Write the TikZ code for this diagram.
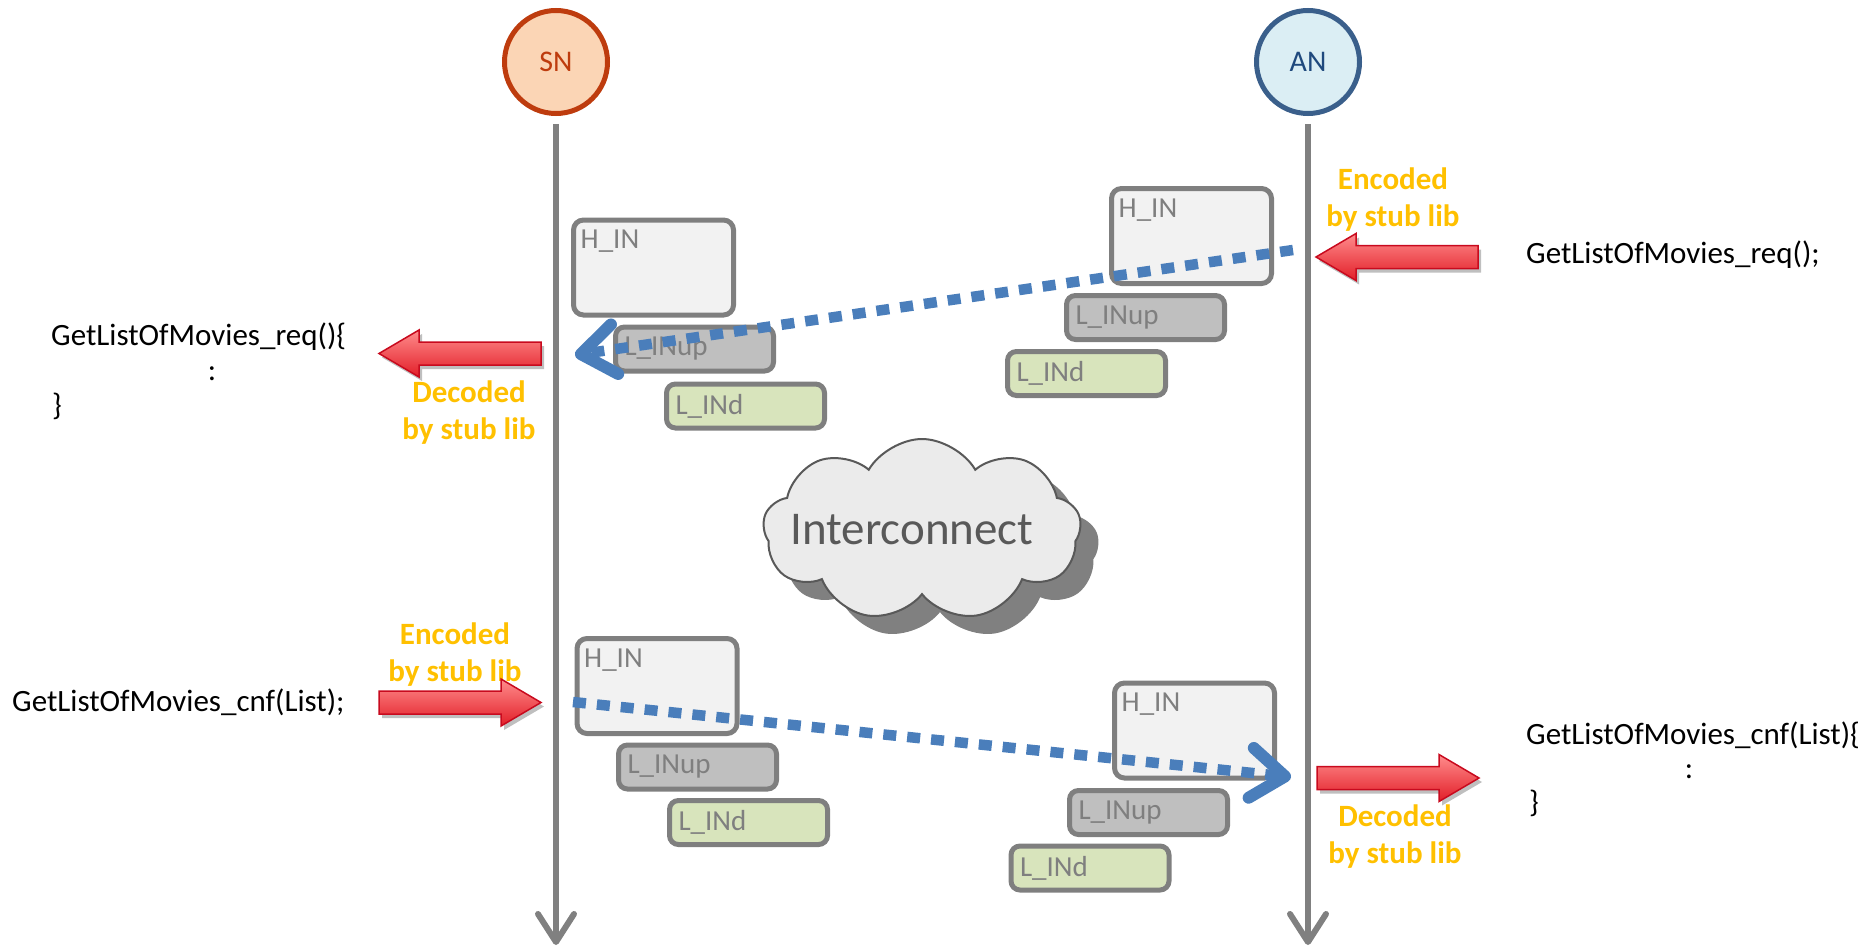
\documentclass[tikz,border=0pt]{standalone}
\usepackage{fontspec}
\setmainfont{Carlito}
\usetikzlibrary{arrows.meta,shapes.symbols}
\definecolor{lifegray}{RGB}{128,128,128}
\definecolor{snfill}{RGB}{251,213,181}
\definecolor{snline}{RGB}{190,60,14}
\definecolor{anfill}{RGB}{219,238,244}
\definecolor{anline}{RGB}{58,95,139}
\definecolor{antext}{RGB}{31,73,125}
\definecolor{boxgray}{RGB}{127,127,127}
\definecolor{hfill}{RGB}{242,242,242}
\definecolor{upfill}{RGB}{191,191,191}
\definecolor{dfill}{RGB}{216,228,188}
\definecolor{stubgold}{RGB}{255,192,0}
\definecolor{msgblue}{RGB}{74,126,187}
\definecolor{cloudfill}{RGB}{235,235,235}
\definecolor{clouddraw}{RGB}{89,89,89}
\definecolor{cloudshade}{RGB}{128,128,128}
\definecolor{arrowtop}{RGB}{255,140,140}
\definecolor{arrowbot}{RGB}{226,30,40}
\definecolor{arrowedge}{RGB}{200,10,30}
\newcommand{\RedArrow}[3]{%
  \begin{scope}[shift={(#1,#2)}, xscale=#3]
    \fill[black, opacity=0.25, shift={(#3*3,4)}] (0,-11.5) -- (122,-11.5) -- (122,-23.5) -- (162,0) -- (122,23.5) -- (122,11.5) -- (0,11.5) -- cycle;
    \path[redarrow] (0,-11.5) -- (122,-11.5) -- (122,-23.5) -- (162,0) -- (122,23.5) -- (122,11.5) -- (0,11.5) -- cycle;
  \end{scope}}
\begin{document}
\begin{tikzpicture}[x=1pt,y=-1pt,
  lifeline/.style={draw=lifegray, line width=6pt, -{Straight Barb[length=28pt,width=36pt,round]}},
  actor/.style={circle, minimum size=103pt, line width=5pt, inner sep=0pt, font=\fontsize{30}{36}\selectfont},
  hinbox/.style={draw=boxgray, line width=5pt, rounded corners=10pt, fill=hfill, minimum width=160pt, minimum height=95pt, inner sep=0pt},
  lbox/.style={draw=boxgray, line width=5pt, rounded corners=9pt, minimum width=158pt, minimum height=44pt, text width=140pt, align=left, inner xsep=9pt, inner ysep=0pt, font=\fontsize{29}{34}\selectfont, text=boxgray},
  upbox/.style={lbox, fill=upfill},
  dnbox/.style={lbox, fill=dfill},
  boxlbl/.style={font=\fontsize{29}{34}\selectfont, text=boxgray, inner sep=0pt, anchor=north west},
  stublbl/.style={font=\bfseries\fontsize{31}{37}\selectfont, text=stubgold, align=center, inner sep=0pt},
  codetxt/.style={font=\fontsize{31}{35}\selectfont, inner sep=0pt, anchor=base west},
  codecol/.style={font=\fontsize{31}{35}\selectfont, inner sep=0pt, anchor=base},
  msg/.style={draw=msgblue, line width=10.5pt, dash pattern=on 13pt off 11pt, -{Straight Barb[length=34pt,width=50pt,line width=12pt,round]}},
  redarrow/.style={top color=arrowtop, bottom color=arrowbot, draw=arrowedge, line width=1.5pt, line join=miter},
  cloudshape/.style={cloud, cloud puffs=9, cloud puff arc=120, aspect=1.7, minimum width=318pt, minimum height=182pt, inner sep=0pt}
]
\useasboundingbox (0,0) rectangle (1876,947);

% actors
\node[actor, draw=snline, fill=snfill, text=snline] (SN) at (556,62) {SN};
\node[actor, draw=anline, fill=anfill, text=antext] (AN) at (1308,62) {AN};
\coordinate (snEnd) at (556,945);
\coordinate (anEnd) at (1308,945);
\draw[lifeline, shorten <=8pt] (SN) -- (snEnd);
\draw[lifeline, shorten <=8pt] (AN) -- (anEnd);

% SN top boxes
\node[hinbox] (snH1) at (653.5,267.5) {};
\node[boxlbl] (snH1t) at ([xshift=9.5pt,yshift=-12.5pt]snH1.north west) {H\_IN};
\node[upbox] (snU1) at (694.5,349) {L\_INup};
\node[dnbox] (snD1) at (745.5,406) {L\_INd};

% AN top boxes
\node[hinbox] (anH1) at (1191.5,236) {};
\node[boxlbl] (anH1t) at ([xshift=9.5pt,yshift=-12.5pt]anH1.north west) {H\_IN};
\node[upbox] (anU1) at (1145.5,317.5) {L\_INup};
\node[dnbox] (anD1) at (1086.5,373.5) {L\_INd};

% SN bottom boxes
\node[hinbox] (snH2) at (657,686) {};
\node[boxlbl] (snH2t) at ([xshift=9.5pt,yshift=-12.5pt]snH2.north west) {H\_IN};
\node[upbox] (snU2) at (697.5,767) {L\_INup};
\node[dnbox] (snD2) at (748.5,822.5) {L\_INd};

% AN bottom boxes
\node[hinbox] (anH2) at (1194.5,730.5) {};
\node[boxlbl] (anH2t) at ([xshift=9.5pt,yshift=-12.5pt]anH2.north west) {H\_IN};
\node[upbox] (anU2) at (1148.5,812.5) {L\_INup};
\node[dnbox] (anD2) at (1090,868) {L\_INd};

% cloud
\node[cloudshape, fill=cloudshade] (cloudsh) at (940,548) {};
\node[cloudshape, fill=cloudfill, draw=clouddraw, line width=2pt] (cloud) at (922,530) {};
\node[font=\fontsize{47}{56}\selectfont, text=clouddraw, inner sep=0pt] (cloudtxt) at (912,530) {Interconnect};

% stub labels
\node[stublbl] (lblA) at (469,413) {Decoded\\by stub lib};
\node[stublbl] (lblB) at (1393,200) {Encoded\\by stub lib};
\node[stublbl] (lblC) at (455,655) {Encoded\\by stub lib};
\node[stublbl] (lblD) at (1395,837) {Decoded\\by stub lib};

% code texts
\node[codetxt] (c1a) at (51,345) {GetListOfMovies\_req()\{};
\node[codecol] (c1b) at (212,380) {:};
\node[codetxt] (c1c) at (52,415) {\}};
\node[codetxt] (c2) at (1526,263) {GetListOfMovies\_req();};
\node[codetxt] (c3) at (12,711) {GetListOfMovies\_cnf(List);};
\node[codetxt] (c4a) at (1526,744) {GetListOfMovies\_cnf(List)\{};
\node[codecol] (c4b) at (1689,778) {:};
\node[codetxt] (c4c) at (1529,812) {\}};

% messages
\coordinate (m1s) at (1293,250);
\coordinate (m1e) at (575,355);
\coordinate (m2s) at (573,702);
\coordinate (m2e) at (1291,777);
\draw[msg] (m1s) -- (m1e);
\draw[msg] (m2s) -- (m2e);

% red block arrows
\RedArrow{541}{353.5}{-1}
\RedArrow{1478}{257}{-1}
\RedArrow{379}{702.5}{1}
\RedArrow{1317}{778}{1}
\end{tikzpicture}
\end{document}
